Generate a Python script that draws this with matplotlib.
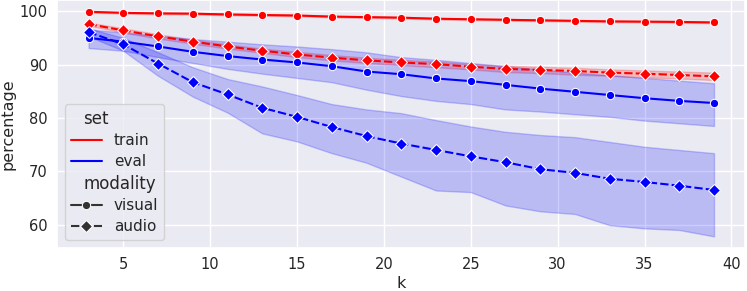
import numpy as np
import pandas as pd
import seaborn as sns
import matplotlib
matplotlib.use('Agg')
import matplotlib.pyplot as plt

# k 值
k = list(range(3, 40, 2))

# 各曲线均值
train_visual = [99.9, 99.7, 99.6, 99.55, 99.4, 99.3, 99.2, 99.0, 98.9, 98.8,
                98.6, 98.5, 98.4, 98.3, 98.2, 98.1, 98.05, 98.0, 97.9]
train_audio = [97.6, 96.4, 95.3, 94.3, 93.4, 92.6, 91.9, 91.3, 90.8, 90.4,
               90.1, 89.6, 89.2, 89.0, 88.8, 88.5, 88.3, 88.05, 87.8]
eval_visual = [95.0, 94.3, 93.4, 92.4, 91.6, 90.95, 90.4, 89.7, 88.7, 88.2,
               87.4, 86.9, 86.2, 85.5, 84.9, 84.3, 83.7, 83.2, 82.8]
eval_audio = [96.1, 93.8, 90.2, 86.7, 84.4, 81.9, 80.2, 78.3, 76.6, 75.2,
              74.0, 72.8, 71.7, 70.4, 69.7, 68.6, 68.0, 67.3, 66.5]

# 置信区间上下界
train_visual_lo = [99.75, 99.55, 99.45, 99.4, 99.25, 99.15, 99.05, 98.85, 98.75, 98.65,
                   98.45, 98.35, 98.25, 98.15, 98.05, 97.95, 97.9, 97.85, 97.75]
train_visual_hi = [100.0, 99.85, 99.75, 99.7, 99.55, 99.45, 99.35, 99.15, 99.05, 98.95,
                   98.75, 98.65, 98.55, 98.45, 98.35, 98.25, 98.2, 98.15, 98.05]
train_audio_lo = [97.3, 96.0, 94.9, 93.9, 93.0, 92.2, 91.4, 90.8, 90.3, 89.9,
                  89.5, 89.1, 88.6, 88.4, 88.1, 87.9, 87.6, 87.4, 87.1]
train_audio_hi = [97.9, 96.8, 95.7, 94.7, 93.8, 93.0, 92.4, 91.8, 91.3, 90.9,
                  90.6, 90.1, 89.8, 89.6, 89.4, 89.1, 88.9, 88.7, 88.5]
eval_visual_lo = [93.1, 92.6, 91.4, 90.3, 89.2, 88.3, 87.5, 86.7, 85.3, 84.1,
                  83.2, 82.6, 81.6, 81.2, 80.7, 80.2, 79.5, 79.0, 78.5]
eval_visual_hi = [96.6, 96.0, 95.4, 94.8, 94.3, 93.8, 93.4, 92.9, 92.3, 91.4,
                  90.9, 90.3, 89.7, 89.1, 88.5, 88.0, 87.5, 87.0, 86.5]
eval_audio_lo = [95.3, 92.6, 87.9, 84.0, 81.0, 77.1, 75.6, 73.4, 71.6, 69.0,
                 66.4, 66.1, 63.6, 62.5, 62.0, 59.9, 59.3, 59.0, 57.8]
eval_audio_hi = [96.8, 95.0, 92.3, 89.5, 87.3, 85.9, 84.3, 82.6, 81.6, 80.9,
                 79.6, 78.4, 77.4, 76.8, 76.4, 75.5, 74.6, 74.0, 73.4]

series = [
    ('train', 'visual', train_visual, train_visual_lo, train_visual_hi),
    ('train', 'audio', train_audio, train_audio_lo, train_audio_hi),
    ('eval', 'visual', eval_visual, eval_visual_lo, eval_visual_hi),
    ('eval', 'audio', eval_audio, eval_audio_lo, eval_audio_hi),
]

rows = []
for s, m, vals, lo, hi in series:
    for kk, v in zip(k, vals):
        rows.append({'k': kk, 'percentage': v, 'set': s, 'modality': m})
df = pd.DataFrame(rows)

sns.set_theme(style='darkgrid')
plt.rcParams['xtick.labelsize'] = 10.5
plt.rcParams['ytick.labelsize'] = 10.5
plt.rcParams['axes.labelsize'] = 11.5
plt.rcParams['legend.fontsize'] = 11
plt.rcParams['legend.title_fontsize'] = 12
plt.rcParams['legend.labelspacing'] = 0.37
palette = {'train': 'red', 'eval': 'blue'}

fig = plt.figure(figsize=(7.47, 2.91), dpi=100)
ax = fig.add_axes([0.0767, 0.149, 0.921, 0.851])

# 阴影区间
for s, m, vals, lo, hi in series:
    ax.fill_between(k, lo, hi, color=palette[s], alpha=0.2, linewidth=1)

sns.lineplot(data=df, x='k', y='percentage', hue='set', style='modality',
             hue_order=['train', 'eval'], style_order=['visual', 'audio'],
             markers=['o', 'D'], palette=palette, errorbar=None, ax=ax)

leg = ax.get_legend()
leg.set_loc('lower left')
# 子标题(set / modality)左移，去掉空的图例句柄区域
subtitles = ['set', 'modality']
for col in leg._legend_handle_box.get_children():
    for row in col.get_children():
        draw_area, text_area = row.get_children()
        texts = text_area.get_children()
        if any(t.get_text() in subtitles for t in texts):
            draw_area.set_width(0)
            for t in texts:
                t.set_size(12)

ax.tick_params(axis='both', length=0, pad=7)
ax.xaxis.labelpad = 2.5
ax.yaxis.labelpad = 3
fig.savefig('out.png', dpi=100)
